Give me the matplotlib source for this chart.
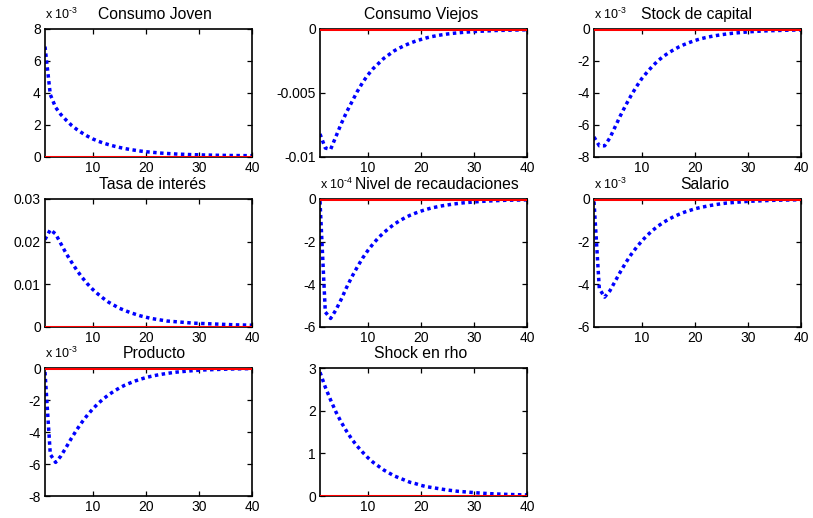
import matplotlib
matplotlib.use("Agg")
import matplotlib.pyplot as plt
from matplotlib.transforms import ScaledTranslation
import numpy as np

plt.rcParams['font.family'] = ['Liberation Sans', 'DejaVu Sans']
plt.rcParams['mathtext.fontset'] = 'custom'
plt.rcParams['mathtext.rm'] = 'Liberation Sans'

periods = list(range(1, 41))

titles = ["Consumo Joven", "Consumo Viejos", "Stock de capital",
          "Tasa de interés", "Nivel de recaudaciones", "Salario",
          "Producto", "Shock en rho"]

# values in displayed units (multiply by 10**exponent for real units)
consumo_joven = [6.9, 3.9, 3.1, 2.65, 2.3, 1.98, 1.72, 1.5, 1.3, 1.13,
                 0.99, 0.87, 0.77, 0.68, 0.6, 0.53, 0.47, 0.42, 0.37, 0.33,
                 0.3, 0.27, 0.24, 0.22, 0.2, 0.18, 0.17, 0.155, 0.145, 0.135,
                 0.125, 0.12, 0.11, 0.105, 0.1, 0.095, 0.09, 0.088, 0.085, 0.082]
consumo_viejos = [-0.0082, -0.0093, -0.0094, -0.0084, -0.0074, -0.0065, -0.0057, -0.0049, -0.0042, -0.0036,
                  -0.0031, -0.0027, -0.0023, -0.002, -0.0017, -0.00148, -0.00128, -0.0011, -0.00095, -0.00082,
                  -0.0007, -0.0006, -0.00052, -0.00045, -0.00039, -0.00034, -0.0003, -0.00026, -0.00023, -0.0002,
                  -0.00018, -0.00016, -0.00014, -0.00012, -0.00011, -0.0001, -0.00009, -0.00008, -0.00007, -0.00006]
stock_capital = [-6.75, -7.3, -7.3, -6.8, -6.1, -5.4, -4.75, -4.15, -3.6, -3.1,
                 -2.7, -2.33, -2.0, -1.73, -1.5, -1.3, -1.12, -0.97, -0.84, -0.72,
                 -0.62, -0.54, -0.47, -0.41, -0.36, -0.31, -0.27, -0.24, -0.21, -0.18,
                 -0.16, -0.14, -0.12, -0.11, -0.1, -0.09, -0.08, -0.07, -0.065, -0.06]
tasa_interes = [0.0205, 0.0228, 0.0218, 0.0195, 0.0172, 0.0152, 0.0133, 0.0116, 0.0101, 0.0088,
                0.0077, 0.0067, 0.0058, 0.0051, 0.0044, 0.0039, 0.0034, 0.003, 0.0026, 0.0023,
                0.002, 0.0018, 0.0016, 0.0014, 0.0013, 0.0012, 0.0011, 0.001, 0.0009, 0.00085,
                0.0008, 0.00075, 0.0007, 0.00065, 0.0006, 0.00055, 0.0005, 0.00048, 0.00045, 0.00042]
recaudaciones = [-0.1, -5.3, -5.6, -5.2, -4.7, -4.15, -3.65, -3.2, -2.78, -2.42,
                 -2.1, -1.82, -1.58, -1.37, -1.18, -1.02, -0.88, -0.76, -0.66, -0.57,
                 -0.49, -0.42, -0.37, -0.32, -0.28, -0.24, -0.21, -0.18, -0.16, -0.14,
                 -0.12, -0.105, -0.09, -0.08, -0.07, -0.06, -0.055, -0.05, -0.045, -0.04]
salario = [-0.12, -4.2, -4.6, -4.3, -3.85, -3.4, -2.98, -2.6, -2.27, -1.97,
           -1.71, -1.48, -1.28, -1.11, -0.96, -0.83, -0.72, -0.62, -0.54, -0.46,
           -0.4, -0.35, -0.3, -0.26, -0.22, -0.19, -0.17, -0.15, -0.13, -0.11,
           -0.1, -0.09, -0.08, -0.07, -0.06, -0.055, -0.05, -0.045, -0.04, -0.035]
producto = [-0.25, -5.4, -5.9, -5.5, -4.95, -4.38, -3.85, -3.37, -2.94, -2.56,
            -2.22, -1.93, -1.67, -1.45, -1.25, -1.08, -0.94, -0.81, -0.7, -0.6,
            -0.52, -0.45, -0.39, -0.34, -0.29, -0.25, -0.22, -0.19, -0.16, -0.14,
            -0.12, -0.11, -0.095, -0.085, -0.075, -0.065, -0.058, -0.05, -0.045, -0.04]
shock_rho = [2.9, 2.55, 2.25, 1.97, 1.73, 1.52, 1.33, 1.17, 1.03, 0.9,
             0.79, 0.7, 0.61, 0.54, 0.47, 0.42, 0.37, 0.32, 0.29, 0.25,
             0.22, 0.2, 0.18, 0.16, 0.14, 0.125, 0.11, 0.1, 0.09, 0.08,
             0.07, 0.062, 0.055, 0.049, 0.044, 0.039, 0.035, 0.031, 0.028, 0.025]

series = [consumo_joven, consumo_viejos, stock_capital, tasa_interes,
          recaudaciones, salario, producto, shock_rho]
exponents = [-3, 0, -3, 0, -4, -3, -3, 0]
yticks = [[0, 2, 4, 6, 8], [-0.01, -0.005, 0], [-8, -6, -4, -2, 0],
          [0, 0.01, 0.02, 0.03], [-6, -4, -2, 0], [-6, -4, -2, 0],
          [-8, -6, -4, -2, 0], [0, 1, 2, 3]]
ytick_labels = [["0", "2", "4", "6", "8"], ["-0.01", "-0.005", "0"],
                ["-8", "-6", "-4", "-2", "0"], ["0", "0.01", "0.02", "0.03"],
                ["-6", "-4", "-2", "0"], ["-6", "-4", "-2", "0"],
                ["-8", "-6", "-4", "-2", "0"], ["0", "1", "2", "3"]]
xticks = [10, 20, 30, 40]

# horizontal title offsets in pixels (layout only)
title_dx = [6, -2, -1, 4, 13, 7, 6, -3]

W, H = 813, 518
fig = plt.figure(figsize=(W / 100, H / 100), dpi=100)

col_left = [45, 320, 594]
row_top = [29, 199, 368]
aw, ah = 207, 128

for i in range(8):
    r, c = divmod(i, 3)
    left = col_left[c] / W
    bottom = (H - row_top[r] - ah) / H
    ax = fig.add_axes([left, bottom, aw / W, ah / H])
    scale = 10.0 ** exponents[i]
    y = np.array(series[i]) * scale
    ax.plot(periods, y, color=(0, 0, 1), linestyle=(0, (1.0, 1.0)), linewidth=2.5,
            dash_capstyle='butt', zorder=2)
    ax.plot(periods, np.zeros(len(periods)), color=(1, 0, 0), linewidth=2.2, zorder=3)
    ax.set_xlim(1, 40)
    yt = np.array(yticks[i]) * scale
    ax.set_ylim(yt.min(), yt.max())
    ax.set_yticks(yt)
    ax.set_yticklabels(ytick_labels[i])
    ax.set_xticks(xticks)
    ax.set_xticklabels([str(v) for v in xticks])
    ax.tick_params(direction='in', top=True, right=True, length=3.5, width=0.9,
                   labelsize=10, pad=3)
    for s in ax.spines.values():
        s.set_linewidth(1.2)
    t = ax.set_title(titles[i], fontsize=11.3, pad=7)
    t.set_transform(t.get_transform() + ScaledTranslation(title_dx[i] / 100, 0, fig.dpi_scale_trans))
    if exponents[i] != 0:
        ax.annotate(r"x 10$^{\text{%d}}$" % exponents[i], xy=(0, 1),
                    xycoords='axes fraction', xytext=(0, 7), textcoords='offset points',
                    ha='left', va='baseline', fontsize=9)

fig.savefig("out.png", dpi=100)
